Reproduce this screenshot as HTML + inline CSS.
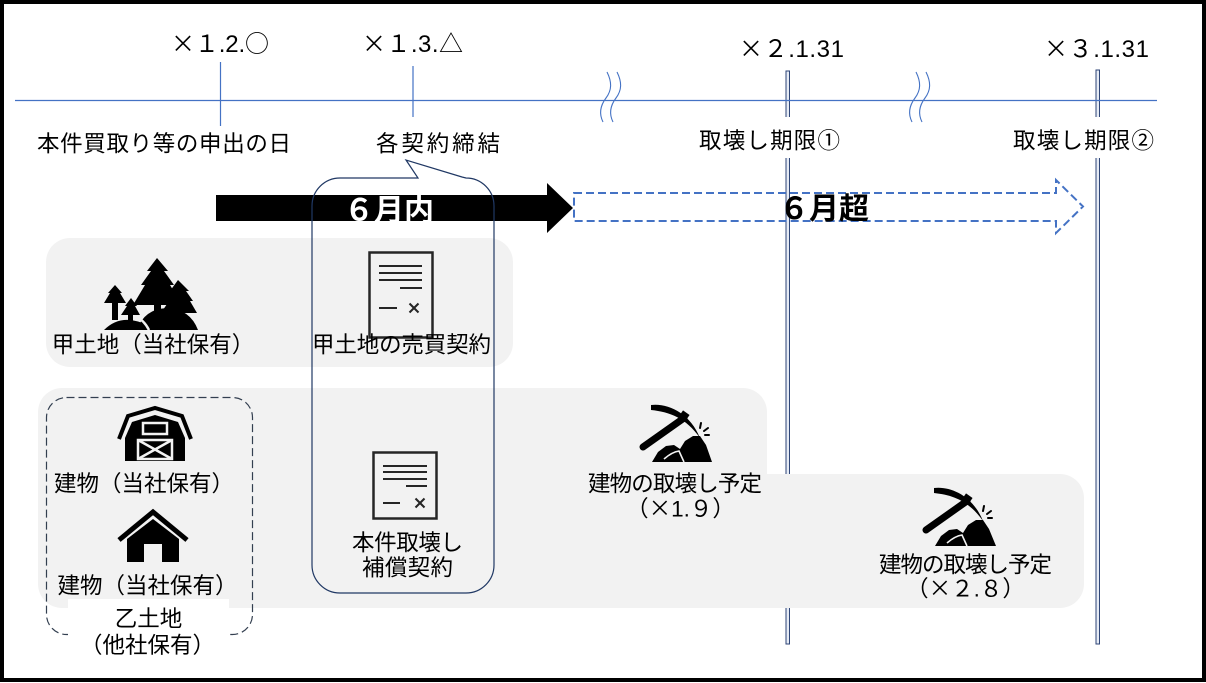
<!DOCTYPE html>
<html>
<head>
<meta charset="utf-8">
<style>
html,body{margin:0;padding:0;background:#fff;}
body{width:1206px;height:683px;overflow:hidden;}
svg{display:block;}
text{font-family:"Liberation Sans","Noto Sans CJK JP",sans-serif;fill:#000;}
.j{font-size:22.5px;}
.c{font-family:"Noto Sans CJK JP",sans-serif;}
</style>
</head>
<body>
<svg width="1206" height="683" viewBox="0 0 1206 683" xmlns="http://www.w3.org/2000/svg">
  <rect x="0" y="0" width="1206" height="683" fill="#fff"/>

  <!-- panel 1 -->
  <rect x="46" y="238" width="467" height="129" rx="24" ry="24" fill="#F2F2F2"/>

  <!-- deadline double lines -->
  <rect x="786" y="71" width="3.5" height="573" fill="#E6EBF5" stroke="#2F4677" stroke-width="1"/>
  <rect x="1096" y="70" width="3.5" height="574" fill="#E6EBF5" stroke="#2F4677" stroke-width="1"/>

  <!-- panels 2 and 3 -->
  <rect x="38" y="388" width="729" height="220" rx="24" ry="24" fill="#F2F2F2"/>
  <rect x="560" y="474" width="524" height="134" rx="24" ry="24" fill="#F2F2F2"/>

  <!-- dashed group rect -->
  <rect x="46.5" y="397.5" width="206" height="237" rx="20" ry="20" fill="none" stroke="#333F50" stroke-width="1.2" stroke-dasharray="8 4"/>
  <!-- white label box -->
  <rect x="68" y="599" width="161" height="62" fill="#fff"/>

  <!-- timeline -->
  <line x1="15" y1="100.5" x2="1157" y2="100.5" stroke="#4472C4" stroke-width="1.2"/>
  <line x1="220.5" y1="62" x2="220.5" y2="126" stroke="#4472C4" stroke-width="1.2"/>
  <line x1="413" y1="66" x2="413" y2="117" stroke="#4472C4" stroke-width="1.2"/>

  <!-- wave breaks -->
  <g fill="none" stroke="#4472C4" stroke-width="1.1">
    <path d="M607,72 C612,82 612,90 606,98 C600,106 599,114 603,122"/>
    <path d="M617,72 C622,82 622,90 616,98 C610,106 609,114 613,122"/>
    <path d="M916,72 C921,82 921,90 915,98 C909,106 908,114 912,122"/>
    <path d="M926,72 C931,82 931,90 925,98 C919,106 918,114 922,122"/>
  </g>

  <!-- white boxes behind deadline labels -->
  <rect x="697" y="117" width="146" height="41" fill="#fff"/>
  <rect x="1011" y="117" width="146" height="41" fill="#fff"/>

  <!-- date labels -->
  <text x="171" y="52" font-size="24" textLength="98" lengthAdjust="spacing"><tspan class="c">×１</tspan>.2.<tspan class="c">○</tspan></text>
  <text x="362" y="52" font-size="24" textLength="101" lengthAdjust="spacing"><tspan class="c">×１</tspan>.3.<tspan class="c">△</tspan></text>
  <text x="739" y="57" font-size="24" textLength="105" lengthAdjust="spacing"><tspan class="c">×２</tspan>.1.31</text>
  <text x="1044" y="57" font-size="24" textLength="105" lengthAdjust="spacing"><tspan class="c">×３</tspan>.1.31</text>

  <!-- timeline labels -->
  <text class="j" x="37" y="151.5" textLength="254" lengthAdjust="spacing">本件買取り等の申出の日</text>
  <text class="j" x="376" y="151.5" textLength="124" lengthAdjust="spacing">各契約締結</text>
  <text class="j" x="699" y="148.5" textLength="141" lengthAdjust="spacing">取壊し期限①</text>
  <text class="j" x="1013" y="148.5" textLength="141" lengthAdjust="spacing">取壊し期限②</text>

  <!-- black arrow -->
  <polygon points="216,195 547,195 547,183 573,208 547,233 547,221 216,221" fill="#000"/>
  <text x="344" y="220.5" font-size="30" font-weight="bold" style="fill:#fff" textLength="90" lengthAdjust="spacing">６月内</text>

  <!-- dashed arrow -->
  <polygon points="574,193 1056,193 1056,180 1083,206.5 1056,233 1056,221 574,221" fill="none" stroke="#4472C4" stroke-width="2" stroke-dasharray="8 4"/>
  <text x="779" y="219" font-size="30" font-weight="bold" textLength="90" lengthAdjust="spacing">６月超</text>

  <!-- callout -->
  <path d="M340,178 L418,178 L406,160 L462,177 L466,178 A28,28 0 0 1 494,206 L494,565 A28,28 0 0 1 466,593 L340,593 A28,28 0 0 1 312,565 L312,206 A28,28 0 0 1 340,178 Z" fill="none" stroke="#203864" stroke-width="1.2"/>

  <!-- trees icon -->
  <g transform="translate(104,258)" fill="#000">
    <polygon points="53,0 43,13 47,13 37,27 41,27 29,47 50,47 50,60 57,60 57,47 78,47 66,27 70,27 60,13 64,13"/>
    <polygon points="74,22 66,33 69,33 62,43 65,43 57,55 71,55 71,64 77,64 77,55 93,55 86,43 89,43 82,33 85,33"/>
    <polygon points="11,27 4,35 6,35 0,45 8,45 8,62 14,62 14,45 22,45 16,35 18,35"/>
    <polygon points="27,40 21,48 23,48 17,57 24,57 24,65 29,65 29,57 36,57 31,48 33,48"/>
    <path d="M0,72 Q18,54 45,68 L45,72 Z"/>
    <path d="M33,72 Q40,51 63,50 Q86,51 94,72 Z"/>
    <path d="M31,58 Q40,62 45,72" fill="none" stroke="#F2F2F2" stroke-width="2.5"/>
  </g>

  <!-- document icon 1 -->
  <g fill="none" stroke="#262626" stroke-width="2">
    <rect x="369.5" y="252.5" width="63" height="85" stroke-width="2.5"/>
    <line x1="379" y1="266" x2="422" y2="266"/>
    <line x1="379" y1="273" x2="422" y2="273"/>
    <line x1="379" y1="280" x2="422" y2="280"/>
    <line x1="400" y1="288" x2="422" y2="288"/>
    <line x1="379" y1="308" x2="397" y2="308"/>
    <line x1="409.5" y1="303.5" x2="418.5" y2="312.5"/>
    <line x1="418.5" y1="303.5" x2="409.5" y2="312.5"/>
  </g>

  <!-- document icon 2 -->
  <g fill="none" stroke="#262626" stroke-width="2">
    <rect x="373.5" y="452.5" width="63" height="66" stroke-width="2.5"/>
    <line x1="383" y1="466" x2="427" y2="466"/>
    <line x1="383" y1="472" x2="427" y2="472"/>
    <line x1="383" y1="479" x2="427" y2="479"/>
    <line x1="406" y1="486" x2="427" y2="486"/>
    <line x1="383" y1="503" x2="400" y2="503"/>
    <line x1="415.5" y1="498.5" x2="424.5" y2="507.5"/>
    <line x1="424.5" y1="498.5" x2="415.5" y2="507.5"/>
  </g>

  <!-- barn icon -->
  <g transform="translate(117,406)">
    <polyline points="2,33 11,10 38,2 65,10 74,33" fill="none" stroke="#000" stroke-width="4" stroke-linejoin="miter"/>
    <polygon points="8,55 8,32 15,16 38,9 61,16 68,32 68,55" fill="#000"/>
    <rect x="26" y="17" width="24" height="11" fill="none" stroke="#F2F2F2" stroke-width="2.5"/>
    <rect x="21" y="34" width="34" height="19" fill="none" stroke="#F2F2F2" stroke-width="2.5"/>
    <line x1="21" y1="34" x2="55" y2="53" stroke="#F2F2F2" stroke-width="2.5"/>
    <line x1="55" y1="34" x2="21" y2="53" stroke="#F2F2F2" stroke-width="2.5"/>
  </g>

  <!-- house icon -->
  <g transform="translate(117,510)">
    <polyline points="2,30 36,2 70,30" fill="none" stroke="#000" stroke-width="5" stroke-linejoin="miter"/>
    <polygon points="10,52 10,29 36,9 62,29 62,52" fill="#000"/>
    <rect x="27" y="34" width="18" height="18" fill="#F2F2F2"/>
  </g>

  <!-- pickaxe icon 1 -->
  <g transform="translate(638,405)">
    <path d="M13,0 C30,-2 52,8 62,33 C48,13 32,7 13,5 Z" fill="#000"/>
    <rect x="42" y="7" width="8" height="8" transform="rotate(35 46 11)" fill="#000"/>
    <line x1="46" y1="13" x2="5" y2="42" stroke="#000" stroke-width="7" stroke-linecap="round"/>
    <polygon points="14,57 20,47 28,41 36,40 42,44 47,36 55,31 62,31 68,40 74,57" fill="#000"/>
    <path d="M26,54 Q34,47 41,46 L46,57" fill="none" stroke="#F2F2F2" stroke-width="1.6"/>
    <g stroke="#000" stroke-width="2" stroke-linecap="round">
      <line x1="62" y1="23" x2="63" y2="18"/>
      <line x1="66" y1="26" x2="70" y2="23"/>
      <line x1="67" y1="30" x2="71" y2="30"/>
    </g>
  </g>

  <!-- pickaxe icon 2 -->
  <g transform="translate(921,488)">
    <path d="M13,0 C30,-2 52,8 62,33 C48,13 32,7 13,5 Z" fill="#000"/>
    <rect x="42" y="7" width="8" height="8" transform="rotate(35 46 11)" fill="#000"/>
    <line x1="46" y1="13" x2="5" y2="42" stroke="#000" stroke-width="7" stroke-linecap="round"/>
    <polygon points="14,58 20,48 28,42 36,41 42,45 47,37 55,32 62,32 68,41 75,58" fill="#000"/>
    <path d="M26,55 Q34,48 41,47 L46,58" fill="none" stroke="#F2F2F2" stroke-width="1.6"/>
    <g stroke="#000" stroke-width="2" stroke-linecap="round">
      <line x1="62" y1="23" x2="63" y2="18"/>
      <line x1="66" y1="26" x2="70" y2="23"/>
      <line x1="67" y1="30" x2="71" y2="30"/>
    </g>
  </g>

  <!-- panel labels -->
  <text class="j" x="153" y="352.5" text-anchor="middle">甲土地（当社保有）</text>
  <text class="j" x="312" y="352.5" textLength="179" lengthAdjust="spacing">甲土地の売買契約</text>
  <text class="j" x="144" y="491.5" text-anchor="middle">建物（当社保有）</text>
  <text class="j" x="147.5" y="593.5" text-anchor="middle">建物（当社保有）</text>
  <text class="j" x="148.5" y="626.5" text-anchor="middle">乙土地</text>
  <text class="j" x="147.5" y="653" text-anchor="middle">（他社保有）</text>
  <text class="j" x="352" y="550.5" textLength="111" lengthAdjust="spacing">本件取壊し</text>
  <text class="j" x="362" y="575.5" textLength="91" lengthAdjust="spacing">補償契約</text>
  <text class="j" x="588" y="491.5" textLength="174" lengthAdjust="spacing">建物の取壊し予定</text>
  <text class="j" x="680.5" y="516.5" text-anchor="middle">（<tspan class="c">×</tspan>1.９）</text>
  <text class="j" x="879" y="572.5" textLength="173" lengthAdjust="spacing">建物の取壊し予定</text>
  <text class="j" x="965.5" y="596.5" text-anchor="middle">（<tspan class="c">×</tspan>２.８）</text>

  <!-- outer frame -->
  <rect x="2" y="2" width="1202" height="678" fill="none" stroke="#000" stroke-width="4"/>
</svg>
</body>
</html>
